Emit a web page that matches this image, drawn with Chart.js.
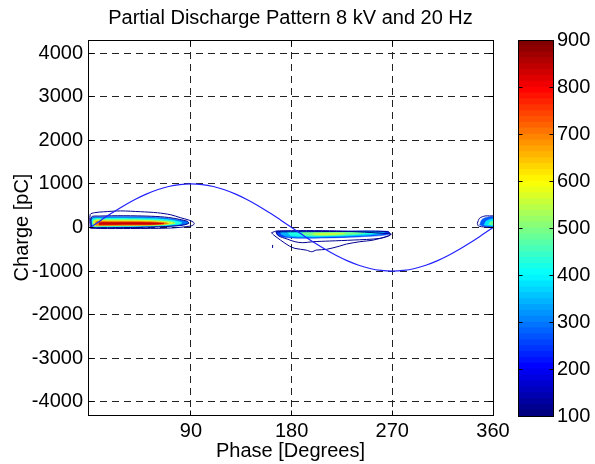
<!DOCTYPE html>
<html>
<head>
<meta charset="utf-8">
<script src="https://cdn.jsdelivr.net/npm/chart.js@4.4.1/dist/chart.umd.min.js"></script>
<style>
  html, body { margin: 0; padding: 0; background: #fff; }
  #wrap { position: relative; width: 595px; height: 464px; }
  #main { position: absolute; left: 0; top: 0; }
  #bar  { position: absolute; left: 500px; top: 0; }
</style>
</head>
<body>
<div id="wrap">
  <canvas id="main" width="595" height="464"></canvas>
  <canvas id="bar" width="95" height="464"></canvas>
</div>
<script>
// axes
const xTicks = [90, 180, 270, 360]
const yTicks = [-4000, -3000, -2000, -1000, 0, 1000, 2000, 3000, 4000]
const cbTicks = [100, 200, 300, 400, 500, 600, 700, 800, 900]

// reference voltage (pC scale), read every 10 degrees
const sinePhase = [0, 10, 20, 30, 40, 50, 60, 70, 80, 90, 100, 110, 120, 130, 140, 150, 160, 170, 180,
  190, 200, 210, 220, 230, 240, 250, 260, 270, 280, 290, 300, 310, 320, 330, 340, 350, 360]
const sineCharge = [0, 174, 342, 500, 643, 766, 866, 940, 985, 1000, 985, 940, 866, 766, 643, 500, 342, 174, 0,
  -174, -342, -500, -643, -766, -866, -940, -985, -1000, -985, -940, -866, -766, -643, -500, -342, -174, 0]

// positive half cycle cluster: [phase, charge]
const c1Outer = [[0,-15],[0,300],[4,340],[12,360],[27,380],[45,362],[60,338],[72,292],[81,222],[88,172],[92,126],[93,80],[90,35],[72,-12],[36,-23],[9,-23],[0,-15]]
const c1Inner = [[1,-5],[1,240],[8,262],[30,270],[55,258],[70,230],[80,185],[87,140],[88,95],[80,45],[55,10],[20,-5],[1,-5]]
const c1Fill1 = [[1,0],[1,225],[10,245],[32,250],[56,240],[70,212],[80,175],[87,135],[88,95],[82,50],[60,15],[25,2],[1,0]]
const c1Fill2 = [[2,15],[2,195],[12,212],[35,215],[56,205],[70,178],[78,145],[82,110],[78,70],[60,35],[25,20],[2,15]]
const c1Fill3 = [[3,30],[3,165],[14,178],[38,176],[58,163],[70,140],[76,105],[70,70],[50,45],[20,35],[3,30]]
const c1Fill4 = [[5,45],[5,135],[16,145],[40,142],[58,130],[68,110],[70,90],[62,65],[40,52],[15,48],[5,45]]
const c1Fill5 = [[8,60],[8,112],[20,120],[42,118],[58,108],[66,92],[60,75],[40,66],[18,62],[8,60]]
const c1Levels = [290, 420, 560, 700, 840]

// negative half cycle cluster
const c2Outer = [[162,-120],[167,-80],[220,-80],[269,-150],[266,-196],[253,-288],[241,-326],[229,-380],[223,-426],[211,-502],[202,-518],[198,-556],[193,-518],[183,-479],[178,-426],[170,-288],[164,-173],[162,-120]]
const c2Inner = [[166,-100],[168,-188],[176,-265],[183,-326],[190,-349],[199,-326],[214,-310],[235,-288],[259,-249],[268,-172],[266,-95],[220,-92],[166,-100]]
const c2Spot = [[163,-400],[163,-470]]
const c2Fill1 = [[166,-85],[172,-80],[230,-80],[266,-88],[268,-140],[262,-180],[240,-215],[210,-240],[185,-245],[172,-220],[167,-160],[166,-85]]
const c2Fill2 = [[170,-92],[230,-88],[262,-95],[263,-140],[250,-175],[225,-205],[195,-222],[178,-210],[171,-160],[170,-92]]
const c2Fill3 = [[176,-100],[230,-95],[256,-105],[254,-140],[238,-170],[212,-195],[190,-200],[179,-175],[176,-100]]
const c2Fill4 = [[190,-115],[230,-112],[245,-125],[238,-150],[218,-180],[200,-185],[190,-160],[190,-115]]
const c2Fill5 = [[200,-130],[222,-128],[228,-140],[220,-165],[205,-172],[199,-152],[200,-130]]
const c2Levels = [250, 340, 420, 490, 550]

// cluster wrapping at 360
const c3Outer = [[346,97],[348,212],[353,265],[357,265],[362,253],[362,15],[353,12],[347,35],[346,97]]
const c3Fill1 = [[348,60],[350,180],[354,230],[362,235],[362,30],[352,30],[348,60]]
const c3Fill2 = [[352,55],[354,150],[358,190],[362,190],[362,45],[355,45],[352,55]]
const c3Fill3 = [[356,70],[358,135],[362,140],[362,65],[356,70]]
const c3Levels = [270, 380, 480]

const FONT = "'Liberation Sans', Arial, Helvetica, sans-serif"
const CONTOUR = '#000090'

function jet(v) {
  const t = (v - 100) / 800
  const c = k => Math.round(255 * Math.min(1, Math.max(0, k)))
  return `rgb(${c(1.5 - Math.abs(4 * t - 3))},${c(1.5 - Math.abs(4 * t - 2))},${c(1.5 - Math.abs(4 * t - 1))})`
}

const toXY = pts => pts.map(p => ({ x: p[0], y: p[1] }))

function fillSet(pts, value, order) {
  return {
    data: toXY(pts), showLine: true, fill: 'shape',
    backgroundColor: jet(value), borderColor: jet(value), borderWidth: 0.5,
    pointRadius: 0, tension: 0.3, order
  }
}
function lineSet(pts, order) {
  return {
    data: toXY(pts), showLine: true, fill: false,
    borderColor: CONTOUR, borderWidth: 1, pointRadius: 0, tension: 0.3, order
  }
}

const datasets = [
  {
    data: sinePhase.map((p, i) => ({ x: p, y: sineCharge[i] })),
    showLine: true, borderColor: '#2222ff', borderWidth: 1.2, pointRadius: 0,
    tension: 0.4, order: 0
  },
  lineSet(c1Outer, 1), lineSet(c1Inner, 1),
  lineSet(c2Outer, 1), lineSet(c2Inner, 1), lineSet(c2Spot, 1),
  lineSet(c3Outer, 1)
]
;[c1Fill1, c1Fill2, c1Fill3, c1Fill4, c1Fill5].forEach((p, i) => datasets.push(fillSet(p, c1Levels[i], 10 - i)))
;[c2Fill1, c2Fill2, c2Fill3, c2Fill4, c2Fill5].forEach((p, i) => datasets.push(fillSet(p, c2Levels[i], 10 - i)))
;[c3Fill1, c3Fill2, c3Fill3].forEach((p, i) => datasets.push(fillSet(p, c3Levels[i], 10 - i)))

const align = v => Math.round(v - 0.5) + 0.5

// black box + small inward tick marks, like the original figure
const frame = {
  id: 'frame',
  afterDraw(chart, args, opts) {
    const { ctx, chartArea: a } = chart
    const l = align(a.left), r = align(a.right), t = align(a.top), b = align(a.bottom)
    ctx.save()
    ctx.strokeStyle = '#000'
    ctx.lineWidth = 1
    ctx.strokeRect(l, t, r - l, b - t)
    const len = opts.len || 5
    ctx.beginPath()
    for (const id of Object.keys(chart.scales)) {
      const s = chart.scales[id]
      if (!s.options.display) continue
      for (const tk of s.ticks) {
        const p = align(s.getPixelForValue(tk.value))
        if (s.isHorizontal()) {
          ctx.moveTo(p, b); ctx.lineTo(p, b - len)
          ctx.moveTo(p, t); ctx.lineTo(p, t + len)
        } else {
          ctx.moveTo(l, p); ctx.lineTo(l + len, p)
          ctx.moveTo(r, p); ctx.lineTo(r - len, p)
        }
      }
    }
    ctx.stroke()
    ctx.restore()
  }
}

new Chart(document.getElementById('main'), {
  type: 'scatter',
  data: { datasets },
  plugins: [frame],
  options: {
    responsive: false,
    animation: false,
    layout: { padding: { left: 0, right: 102, top: 0, bottom: 0 } },
    plugins: {
      legend: { display: false },
      tooltip: { enabled: false },
      frame: { len: 5 },
      title: {
        display: true, fullSize: false,
        text: 'Partial Discharge Pattern 8 kV and 20 Hz',
        color: '#000',
        font: { family: FONT, size: 20, weight: 'normal' },
        padding: { top: 6, bottom: 10 }
      }
    },
    scales: {
      x: {
        type: 'linear', min: -2, max: 360,
        afterBuildTicks: s => { s.ticks = xTicks.map(v => ({ value: v })) },
        afterFit: s => { s.height = 49 },
        grid: { color: '#222', lineWidth: 1, drawTicks: false },
        border: { display: false, dash: [7, 5] },
        ticks: { color: '#000', font: { family: FONT, size: 20 }, padding: 4, autoSkip: false, maxRotation: 0,
          callback: v => String(v) },
        title: {
          display: true, text: 'Phase [Degrees]', color: '#000',
          font: { family: FONT, size: 20 }, padding: { top: 0, bottom: 1 }
        }
      },
      y: {
        type: 'linear', min: -4300, max: 4300,
        afterBuildTicks: s => { s.ticks = yTicks.map(v => ({ value: v })) },
        afterFit: s => { s.width = 88 },
        grid: { color: '#222', lineWidth: 1, drawTicks: false },
        border: { display: false, dash: [7, 5] },
        ticks: { color: '#000', font: { family: FONT, size: 20 }, padding: 5, autoSkip: false,
          callback: v => String(v) },
        title: {
          display: true, text: 'Charge [pC]', color: '#000',
          font: { family: FONT, size: 20 }, padding: { top: 10, bottom: 0 }
        }
      }
    }
  }
})

// colour bar (jet, 64 levels between the end ticks)
const cbMin = cbTicks[0], cbMax = cbTicks[cbTicks.length - 1]
const cbStep = (cbMax - cbMin) / 64
const cbSets = []
for (let i = 0; i < 64; i++) {
  const lo = cbMin + i * cbStep
  cbSets.push({
    data: [[Math.max(cbMin, lo - 2), lo + cbStep]],
    backgroundColor: jet(cbMin + (i / 63) * (cbMax - cbMin)),
    borderWidth: 0
  })
}

new Chart(document.getElementById('bar'), {
  type: 'bar',
  data: { labels: ['c'], datasets: cbSets },
  plugins: [frame],
  options: {
    responsive: false,
    animation: false,
    layout: { padding: { left: 18, right: 0, top: 40, bottom: 48 } },
    datasets: { bar: { grouped: false, barPercentage: 1, categoryPercentage: 1 } },
    plugins: { legend: { display: false }, tooltip: { enabled: false }, frame: { len: 4 } },
    scales: {
      x: { display: false },
      y: {
        position: 'right', min: cbMin, max: cbMax,
        afterBuildTicks: s => { s.ticks = cbTicks.map(v => ({ value: v })) },
        afterFit: s => { s.width = 42 },
        grid: { display: false, drawTicks: false },
        border: { display: false },
        ticks: { color: '#000', font: { family: FONT, size: 20 }, padding: 4 }
      }
    }
  }
})
</script>
</body>
</html>
